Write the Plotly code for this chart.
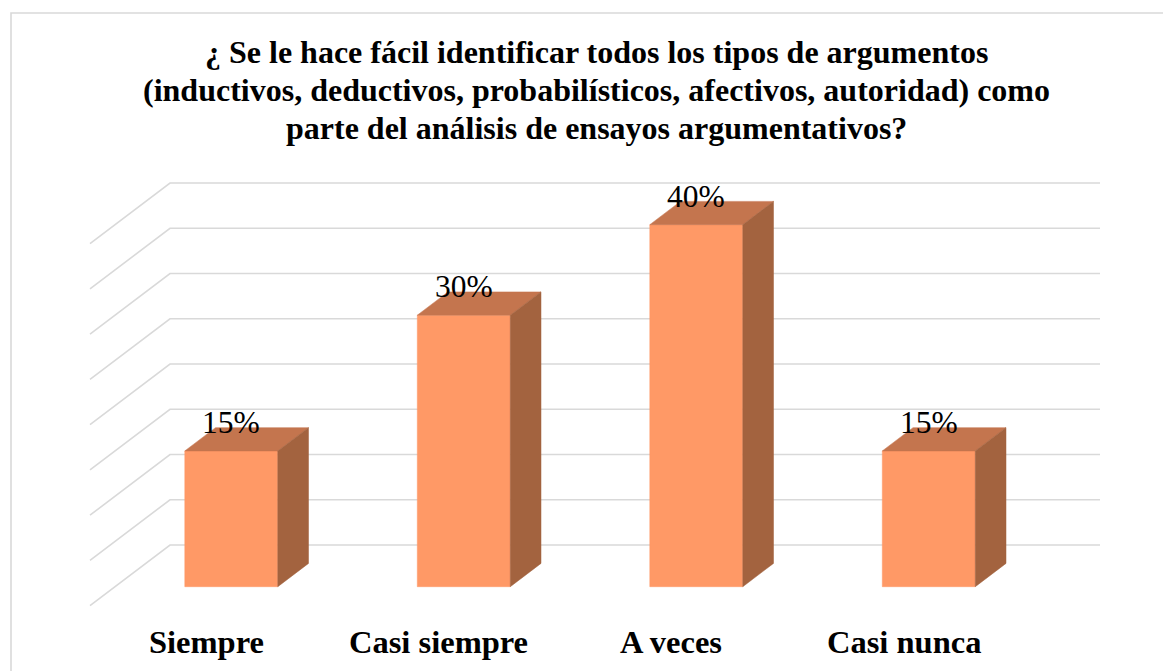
import plotly.graph_objects as go

# ---------------- data ----------------
categories = ["Siempre", "Casi siempre", "A veces", "Casi nunca"]
values = [15, 30, 40, 15]
value_labels = ["15%", "30%", "40%", "15%"]
grid_values = [0, 5, 10, 15, 20, 25, 30, 35, 40]
title_lines = [
    "¿ Se le hace fácil identificar todos los tipos de argumentos",
    "(inductivos, deductivos, probabilísticos, afectivos, autoridad) como",
    "parte del análisis de ensayos argumentativos?",
]

# ---------------- geometry (oblique 3D projection) ----------------
W, H = 1171, 671
OFF = 8                                 # page body margin
PX_X0, PX_PER_CAT = 206.25, 232.5      # screen px of category 0 at front plane, px per category
PX_Y0, PX_PER_PCT = 605.7, 9.05        # screen px of 0% at front plane, px per percent
DX = 80 / PX_PER_CAT                   # full-depth shift in category units
DY = 60.7 / PX_PER_PCT                 # full-depth shift in percent units
D_FRONT, D_BACK = 0.313, 0.697         # bar depth span
BAR_W = 0.4

FRONT_C = "#FF9966"
TOP_C = "#C4754E"
SIDE_C = "#A3633F"
GRID_C = "#D9D9D9"
SERIF = "Liberation Serif"


def px_x(p):
    return (p - OFF) / W


def px_y(p):
    return 1 - (p - OFF) / H


def proj(c, v, d):
    return c + d * DX, v + d * DY


fig = go.Figure()

# gridlines: back wall + left side wall
n = len(categories)
for g in grid_values:
    xs, ys = [], []
    for (c, d) in [(-0.5, 0.0), (-0.5, 1.0), (n - 0.5, 1.0)]:
        X, Y = proj(c, g, d)
        xs.append(X)
        ys.append(Y)
    fig.add_trace(go.Scatter(x=xs, y=ys, mode="lines",
                             line=dict(color=GRID_C, width=1.6),
                             hoverinfo="skip", showlegend=False))


def poly(pts, color):
    xs = [p[0] for p in pts] + [pts[0][0]]
    ys = [p[1] for p in pts] + [pts[0][1]]
    fig.add_trace(go.Scatter(x=xs, y=ys, mode="lines", fill="toself",
                             fillcolor=color, line=dict(color=color, width=0.5),
                             hoverinfo="skip", showlegend=False))


for i, v in enumerate(values):
    l, r = i - BAR_W / 2, i + BAR_W / 2
    poly([proj(l, 0, D_FRONT), proj(r, 0, D_FRONT), proj(r, v, D_FRONT), proj(l, v, D_FRONT)], FRONT_C)
    poly([proj(l, v, D_FRONT), proj(r, v, D_FRONT), proj(r, v, D_BACK), proj(l, v, D_BACK)], TOP_C)
    poly([proj(r, 0, D_FRONT), proj(r, 0, D_BACK), proj(r, v, D_BACK), proj(r, v, D_FRONT)], SIDE_C)

annotations = []
for i, v in enumerate(values):
    X, Y = proj(i, v, D_FRONT)
    annotations.append(dict(x=X, y=Y, xref="x", yref="y", text=value_labels[i],
                            showarrow=False, xanchor="center", yanchor="middle", yshift=28.4,
                            font=dict(family=SERIF, size=31.5, color="black")))

for i, cat in enumerate(categories):
    X, _ = proj(i, 0, 0.0)
    annotations.append(dict(x=X, y=px_y(642.3), xref="x", yref="paper", text=f"<b>{cat}</b>",
                            showarrow=False, xanchor="center", yanchor="middle",
                            font=dict(family=SERIF, size=32.5, color="black")))

title_centers = [52.4, 90.1, 127.6]
for k, line in enumerate(title_lines):
    annotations.append(dict(x=px_x(596), y=px_y(title_centers[k]), xref="paper", yref="paper",
                            text=f"<b>{line}</b>", showarrow=False, xanchor="center",
                            yanchor="middle",
                            font=dict(family=SERIF, size=32, color="black")))

fig.update_layout(
    width=W, height=H, autosize=False,
    font=dict(family=SERIF, color="black"),
    margin=dict(l=0, r=0, t=0, b=0),
    paper_bgcolor="white", plot_bgcolor="white",
    xaxis=dict(range=[(OFF - PX_X0) / PX_PER_CAT, (W + OFF - PX_X0) / PX_PER_CAT],
               visible=False, fixedrange=True),
    yaxis=dict(range=[(PX_Y0 - (H + OFF)) / PX_PER_PCT, (PX_Y0 - OFF) / PX_PER_PCT],
               visible=False, fixedrange=True),
    annotations=annotations,
    shapes=[dict(type="rect", xref="paper", yref="paper",
                 x0=px_x(11), y0=-0.05, x1=1.05, y1=px_y(13),
                 line=dict(color=GRID_C, width=1.6), layer="below")],
    showlegend=False,
)

fig.write_html("out.html")
